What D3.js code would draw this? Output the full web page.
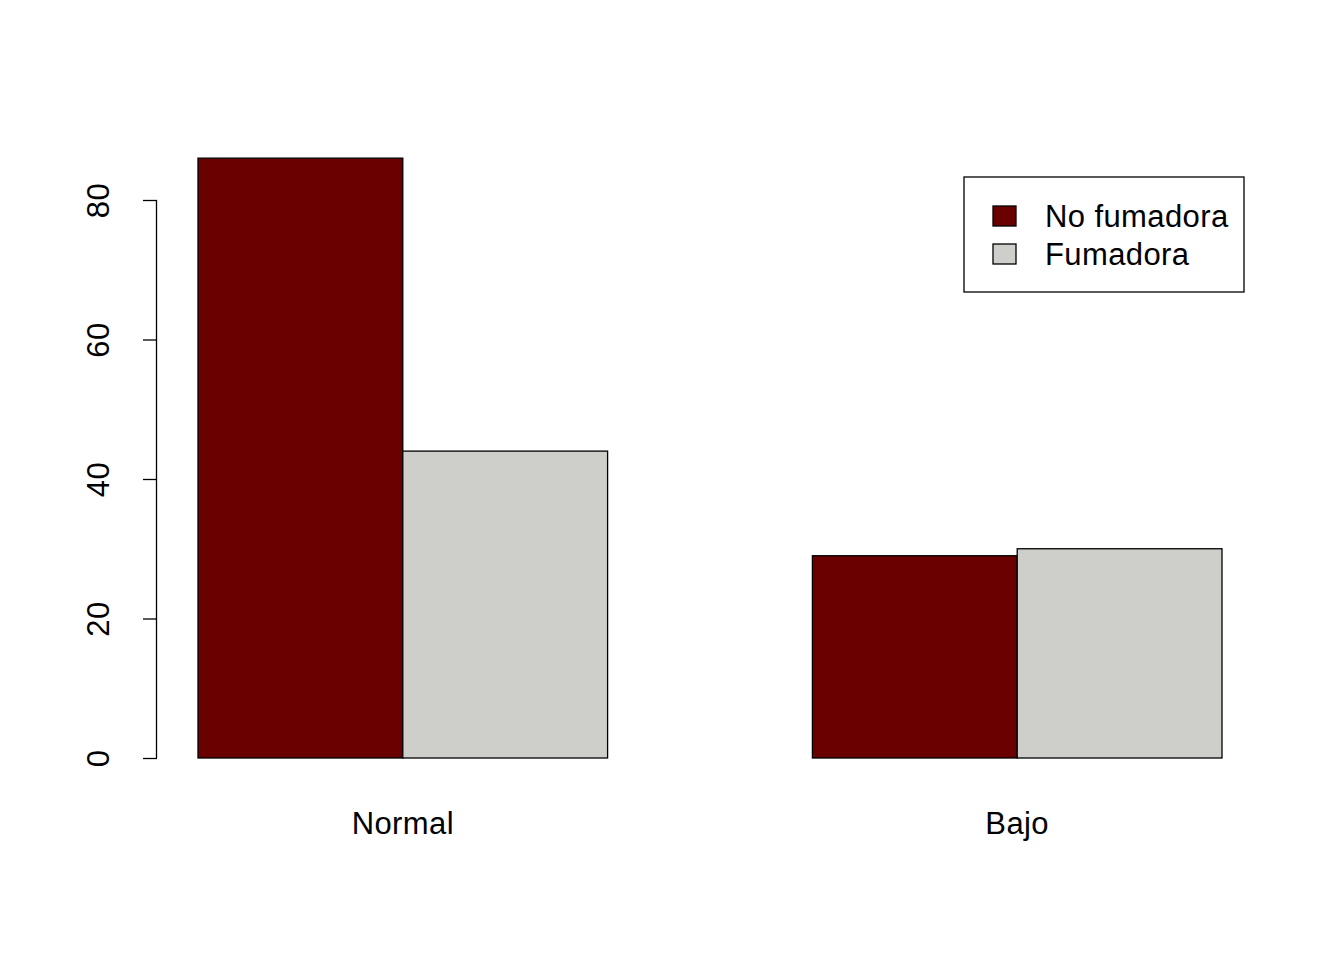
<!DOCTYPE html>
<html>
<head>
<meta charset="utf-8">
<script src="https://cdn.jsdelivr.net/npm/d3@7"></script>
<style>
  body { margin: 0; background: #fff; }
  svg text { font-family: "Liberation Sans", Arial, sans-serif; fill: #000; letter-spacing: 0.4px; }
</style>
</head>
<body>
<div id="graph"></div>
<script>
// birth weight groups, counts by smoking status
var groups = ["Normal", "Bajo"];
var series = ["No fumadora", "Fumadora"];
var noFumadora = [86, 29];
var fumadora = [44, 30];
var yTicks = [0, 20, 40, 60, 80];
var colors = ["#6b0000", "#cececa"];

var width = 1344;
var height = 960;
var fontSize = 31;

var svg = d3.select("#graph").
  append("svg").
  attr("width", width).
  attr("height", height);

// R barplot units: bars at [1,2],[2,3],[4,5],[5,6]
var xScale = d3.scaleLinear().domain([1, 6]).range([198, 1222]);
var yScale = d3.scaleLinear().domain([0, 80]).range([758, 200]);

var rows = [];
groups.forEach(function (g, i) {
  var start = 1 + i * 3;
  rows.push({group: g, s: 0, value: noFumadora[i], x0: start});
  rows.push({group: g, s: 1, value: fumadora[i], x0: start + 1});
});

svg.selectAll("rect.bar").
  data(rows).
  enter().
  append("rect").
  attr("class", "bar").
  attr("x", function (d) {return xScale(d.x0);}).
  attr("y", function (d) {return yScale(d.value);}).
  attr("width", function (d) {return xScale(d.x0 + 1) - xScale(d.x0);}).
  attr("height", function (d) {return yScale(0) - yScale(d.value);}).
  attr("fill", function (d) {return colors[d.s];}).
  attr("stroke", "#000").
  attr("stroke-width", 1.3);

// y axis
var yAxis = d3.axisLeft(yScale).tickValues(yTicks).tickSize(14).tickPadding(0).tickFormat(d3.format("d"));
var gy = svg.append("g").
  attr("transform", "translate(157,0)").
  call(yAxis);
gy.select(".domain").attr("d", "M-0.5," + yScale(0) + "V" + yScale(80)).attr("stroke-width", 1.3);
gy.selectAll(".tick line").attr("stroke-width", 1.3);
gy.selectAll(".tick text").
  attr("font-size", fontSize).
  attr("font-family", "Liberation Sans, Arial, sans-serif").
  attr("transform", "translate(-59,0) rotate(-90)").
  attr("x", 0).attr("dy", "0.355em").
  attr("text-anchor", "middle");

// group labels
svg.selectAll("text.grp").
  data(groups).
  enter().
  append("text").
  attr("class", "grp").
  attr("x", function (d, i) {return xScale(2 + i * 3);}).
  attr("y", 834).
  attr("text-anchor", "middle").
  attr("font-size", fontSize).
  text(function (d) {return d;});

// legend
var legend = svg.append("g");
legend.append("rect").
  attr("x", 964).attr("y", 177).
  attr("width", 280).attr("height", 115).
  attr("fill", "#fff").attr("stroke", "#000").attr("stroke-width", 1.3);
series.forEach(function (s, i) {
  var cy = 216 + i * 38;
  legend.append("rect").
    attr("x", 993).attr("y", cy - 10).
    attr("width", 23).attr("height", 20).
    attr("fill", colors[i]).attr("stroke", "#000").attr("stroke-width", 1.3);
  legend.append("text").
    attr("x", 1045).attr("y", cy).
    attr("dy", "0.355em").
    attr("font-size", fontSize).
    text(s);
});
</script>
</body>
</html>
